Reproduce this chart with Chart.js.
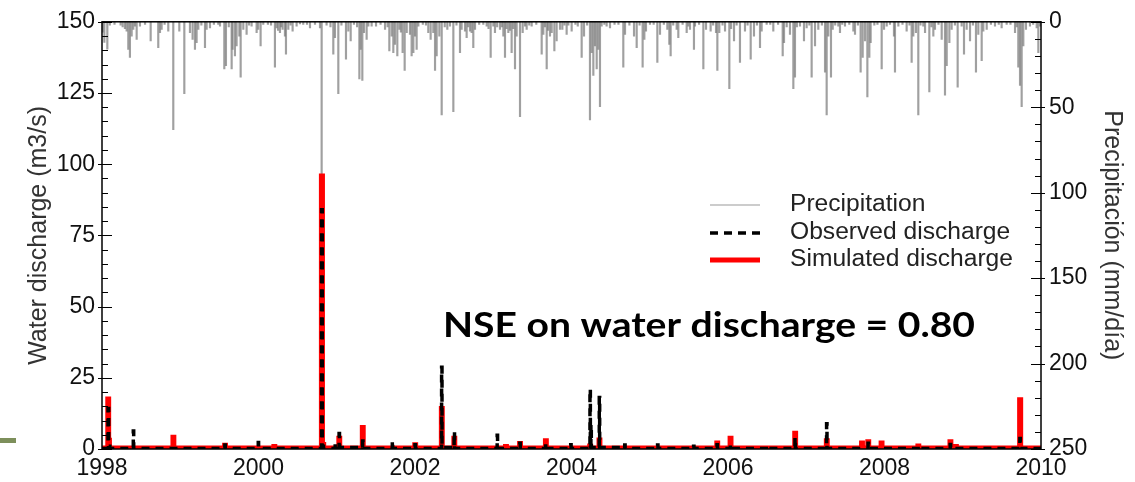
<!DOCTYPE html>
<html>
<head>
<meta charset="utf-8">
<title>Water discharge</title>
<script src="https://cdn.jsdelivr.net/npm/chart.js@4.4.1/dist/chart.umd.min.js"></script>
<style>
  body { margin: 0; background: #fff; }
  #wrap { position: relative; width: 1135px; height: 482px; }
  #mark { position: absolute; left: 0; top: 438px; width: 16px; height: 5px; background: #7d8f5b; }
</style>
</head>
<body>
<div id="wrap">
  <canvas id="dischargeChart" width="1135" height="482"></canvas>
  <div id="mark"></div>
</div>
<script>
// fechas en años decimales
var yearTicks = [1998, 2000, 2002, 2004, 2006, 2008, 2010];
var dischargeTicks = [0, 25, 50, 75, 100, 125, 150];
var precipTicks = [0, 50, 100, 150, 200, 250];

var seriesLabels = ['Precipitation', 'Observed discharge', 'Simulated discharge'];
var nseLabel = 'NSE on water discharge = 0.80';

// caudal observado [fecha, m3/s]
var observed = [
    [1998.000, 0.2], [1998.070, 0.2], [1998.077, 14.2], [1998.085, 1.0], [1998.100, 0.2],
    [1998.395, 0.2], [1998.400, 6.3], [1998.405, 0.2],
    [1999.565, 0.2], [1999.570, 1.4], [1999.575, 0.2],
    [1999.993, 0.2], [1999.997, 2.3], [2000.001, 0.2],
    [2000.800, 0.2], [2000.807, 84.0], [2000.815, 1.0], [2000.830, 0.2],
    [2000.975, 0.2], [2000.980, 1.7], [2000.985, 0.2],
    [2001.025, 0.2], [2001.030, 5.4], [2001.035, 0.5],
    [2001.325, 0.2], [2001.330, 2.8], [2001.335, 0.2],
    [2001.705, 0.2], [2001.710, 2.9], [2001.715, 0.2],
    [2001.995, 0.2], [2002.000, 1.5], [2002.005, 0.2],
    [2002.335, 0.2], [2002.340, 28.7], [2002.345, 0.5],
    [2002.495, 0.2], [2002.500, 6.0], [2002.505, 0.2],
    [2003.045, 0.2], [2003.050, 4.8], [2003.055, 0.2],
    [2003.335, 0.2], [2003.340, 2.0], [2003.345, 0.2],
    [2003.665, 0.2], [2003.670, 2.0], [2003.675, 0.2],
    [2003.985, 0.2], [2003.990, 1.5], [2003.995, 0.2],
    [2004.231, 0.2], [2004.236, 21.0], [2004.241, 1.0], [2004.248, 8.5], [2004.253, 0.5],
    [2004.350, 0.2], [2004.355, 18.1], [2004.360, 0.5],
    [2004.675, 0.2], [2004.680, 1.4], [2004.685, 0.2],
    [2005.095, 0.2], [2005.100, 1.4], [2005.105, 0.2],
    [2005.555, 0.2], [2005.560, 1.0], [2005.565, 0.2],
    [2005.855, 0.2], [2005.860, 1.5], [2005.865, 0.2],
    [2006.025, 0.2], [2006.030, 1.5], [2006.035, 0.2],
    [2006.485, 0.2], [2006.490, 1.0], [2006.495, 0.2],
    [2006.851, 0.2], [2006.856, 4.0], [2006.861, 0.2],
    [2007.255, 0.2], [2007.260, 8.9], [2007.265, 0.2],
    [2007.785, 0.2], [2007.790, 2.0], [2007.795, 0.2],
    [2008.425, 0.2], [2008.430, 1.0], [2008.435, 0.2],
    [2008.835, 0.2], [2008.840, 1.6], [2008.845, 0.2],
    [2009.725, 0.2], [2009.730, 3.7], [2009.735, 0.2],
    [2010.000, 0.2]
];

// caudal simulado [fecha, m3/s]
var simulated = [
    [1998.000, 0.3], [1998.072, 0.3], [1998.077, 17.5], [1998.082, 3.0], [1998.092, 0.3],
    [1998.905, 0.3], [1998.910, 4.0], [1998.915, 0.3],
    [1999.565, 0.3], [1999.570, 1.2], [1999.575, 0.3],
    [2000.195, 0.3], [2000.200, 0.8], [2000.205, 0.3],
    [2000.800, 0.3], [2000.807, 95.8], [2000.814, 1.5], [2000.830, 0.3],
    [2001.025, 0.3], [2001.030, 3.7], [2001.035, 0.3],
    [2001.325, 0.3], [2001.330, 7.5], [2001.335, 0.3],
    [2001.995, 0.3], [2002.000, 1.4], [2002.005, 0.3],
    [2002.335, 0.3], [2002.340, 14.1], [2002.345, 0.3],
    [2002.495, 0.3], [2002.500, 3.7], [2002.505, 0.3],
    [2003.155, 0.3], [2003.160, 0.8], [2003.165, 0.3],
    [2003.335, 0.3], [2003.340, 1.8], [2003.345, 0.3],
    [2003.665, 0.3], [2003.670, 2.8], [2003.675, 0.3],
    [2004.231, 0.3], [2004.236, 1.0], [2004.241, 0.3],
    [2004.350, 0.3], [2004.355, 3.1], [2004.360, 0.3],
    [2005.855, 0.3], [2005.860, 2.0], [2005.865, 0.3],
    [2006.025, 0.3], [2006.030, 3.7], [2006.035, 0.3],
    [2006.851, 0.3], [2006.856, 5.4], [2006.861, 0.3],
    [2007.255, 0.3], [2007.260, 2.8], [2007.265, 0.3],
    [2007.705, 0.3], [2007.710, 2.0], [2007.715, 0.3],
    [2007.785, 0.3], [2007.790, 2.5], [2007.795, 0.3],
    [2007.955, 0.3], [2007.960, 2.0], [2007.965, 0.3],
    [2008.425, 0.3], [2008.430, 1.0], [2008.435, 0.3],
    [2008.835, 0.3], [2008.840, 2.5], [2008.845, 0.3],
    [2008.905, 0.3], [2008.910, 0.8], [2008.915, 0.3],
    [2009.723, 0.3], [2009.730, 17.2], [2009.737, 0.3],
    [2010.000, 0.3]
];

// precipitación diaria [fecha, mm/día]
var precipitation = [
    [1998.010, 6], [1998.030, 12], [1998.068, 16], [1998.100, 2], [1998.160, 1.5], [1998.238, 2],
    [1998.264, 3], [1998.293, 4], [1998.315, 5.5], [1998.336, 16.1], [1998.357, 20.9], [1998.379, 8.4],
    [1998.400, 4.5], [1998.421, 2.6], [1998.443, 10.3], [1998.485, 2.6], [1998.550, 1.5], [1998.622, 11.2],
    [1998.719, 15.1], [1998.741, 6.4], [1998.762, 4.5], [1998.800, 1.5], [1998.847, 5.5], [1998.911, 63.1],
    [1998.988, 5.5], [1999.052, 42], [1999.124, 6.4], [1999.158, 10.3], [1999.188, 16.1], [1999.209, 12.2],
    [1999.231, 4.5], [1999.270, 2], [1999.316, 15.1], [1999.337, 4.5], [1999.380, 3.6], [1999.430, 1.5],
    [1999.486, 1.6], [1999.508, 2.6], [1999.563, 27.6], [1999.584, 25.7], [1999.620, 3], [1999.657, 27.6],
    [1999.669, 16.1], [1999.699, 19.9], [1999.720, 14.1], [1999.755, 8.4], [1999.772, 32.4], [1999.806, 4.5],
    [1999.848, 7.4], [1999.880, 2], [1999.912, 2.6], [1999.976, 6.4], [1999.997, 4.5], [2000.027, 14.1],
    [2000.061, 1.6], [2000.120, 1.5], [2000.160, 2], [2000.210, 26.6], [2000.232, 3.6], [2000.250, 5],
    [2000.274, 6.4], [2000.290, 3], [2000.308, 4.5], [2000.338, 8.4], [2000.351, 19], [2000.381, 4.5],
    [2000.410, 2], [2000.436, 5.5], [2000.487, 2.6], [2000.530, 1.2], [2000.572, 1.6], [2000.620, 1.5],
    [2000.658, 3.6], [2000.722, 1.6], [2000.786, 3.6], [2000.807, 96], [2000.870, 2], [2000.920, 3],
    [2000.956, 19], [2000.977, 9.3], [2001.020, 42], [2001.060, 2], [2001.118, 21.8], [2001.148, 5.5],
    [2001.178, 11.2], [2001.220, 1.5], [2001.260, 3], [2001.289, 33.4], [2001.306, 16.1], [2001.327, 34.3],
    [2001.348, 6.4], [2001.382, 10.3], [2001.404, 2.6], [2001.446, 2.6], [2001.502, 2.6], [2001.560, 1.5],
    [2001.617, 4.5], [2001.650, 3], [2001.672, 17], [2001.702, 8.4], [2001.723, 18], [2001.744, 13.2],
    [2001.774, 19.9], [2001.800, 4.5], [2001.820, 6], [2001.842, 18], [2001.868, 28.5], [2001.894, 6.4],
    [2001.936, 7.4], [2001.957, 19.9], [2001.979, 18], [2002.000, 8.4], [2002.021, 16.1], [2002.043, 2.6],
    [2002.100, 1.5], [2002.140, 2], [2002.170, 6.4], [2002.200, 10.3], [2002.234, 6.4], [2002.256, 28.5],
    [2002.277, 19.9], [2002.311, 8.4], [2002.341, 54.5], [2002.380, 3], [2002.413, 4.5], [2002.447, 2.6],
    [2002.490, 52.6], [2002.530, 2], [2002.575, 18], [2002.596, 4.5], [2002.639, 5.5], [2002.660, 9.3],
    [2002.680, 3], [2002.703, 5.5], [2002.724, 6.4], [2002.745, 15.1], [2002.767, 4.5], [2002.820, 1.5],
    [2002.873, 1.6], [2002.916, 2.6], [2002.940, 4], [2002.967, 20.9], [2003.001, 2.6], [2003.022, 6.4],
    [2003.050, 3], [2003.086, 4.5], [2003.110, 3], [2003.129, 8.4], [2003.150, 20.9], [2003.170, 4],
    [2003.193, 6.4], [2003.215, 5], [2003.235, 18], [2003.256, 4], [2003.278, 27.6], [2003.299, 8.4],
    [2003.342, 55.5], [2003.376, 6.4], [2003.406, 2.6], [2003.427, 4.5], [2003.460, 2], [2003.491, 2.6],
    [2003.550, 1.5], [2003.619, 19], [2003.640, 7.4], [2003.660, 3], [2003.683, 27.6], [2003.700, 5],
    [2003.725, 8.4], [2003.747, 6.4], [2003.781, 17], [2003.810, 11.2], [2003.853, 4.5], [2003.883, 4.5],
    [2003.910, 2], [2003.938, 7.4], [2003.960, 2], [2004.002, 5.5], [2004.050, 1.5], [2004.080, 2.5],
    [2004.130, 20.9], [2004.160, 8.4], [2004.200, 2], [2004.236, 57.4], [2004.258, 18], [2004.279, 31.4],
    [2004.300, 14.1], [2004.322, 27.6], [2004.343, 16.1], [2004.364, 49.7], [2004.385, 2.6], [2004.420, 1.5],
    [2004.449, 2.6], [2004.492, 3.6], [2004.550, 1.5], [2004.600, 1.5], [2004.662, 26.6], [2004.684, 7.4],
    [2004.740, 2], [2004.799, 8.4], [2004.833, 15.1], [2004.870, 2], [2004.909, 26.6], [2004.931, 10.3],
    [2004.952, 5.5], [2005.003, 1.6], [2005.050, 1.5], [2005.097, 23.7], [2005.131, 7.4], [2005.180, 1.5],
    [2005.225, 4.5], [2005.250, 13.2], [2005.267, 19.9], [2005.300, 2], [2005.344, 4.5], [2005.365, 9.3],
    [2005.420, 1.5], [2005.472, 6.4], [2005.493, 2.6], [2005.514, 4.5], [2005.565, 16.1], [2005.578, 2.6],
    [2005.630, 1.5], [2005.685, 27.6], [2005.719, 4.5], [2005.778, 5.5], [2005.810, 2], [2005.847, 6.4],
    [2005.864, 28.5], [2005.889, 6.4], [2005.930, 2], [2005.962, 5.5], [2006.017, 39.1], [2006.040, 4],
    [2006.077, 11.2], [2006.110, 2], [2006.153, 23.7], [2006.217, 5.5], [2006.250, 2], [2006.290, 21.8],
    [2006.332, 8.4], [2006.370, 2], [2006.409, 15.1], [2006.430, 5.5], [2006.494, 1.6], [2006.540, 1.5],
    [2006.579, 5.5], [2006.640, 1.5], [2006.699, 19.9], [2006.716, 12.2], [2006.750, 3], [2006.792, 7.4],
    [2006.835, 39.1], [2006.856, 32.4], [2006.880, 3], [2006.920, 2.6], [2006.971, 11.2], [2007.005, 3.6],
    [2007.040, 2], [2007.069, 32.4], [2007.112, 14.1], [2007.154, 4.5], [2007.200, 2], [2007.240, 29.5],
    [2007.261, 54.5], [2007.282, 8.4], [2007.316, 32.4], [2007.338, 4.5], [2007.370, 2], [2007.410, 2.6],
    [2007.431, 6.4], [2007.460, 1.5], [2007.495, 2.6], [2007.550, 1.5], [2007.602, 5.5], [2007.623, 7.4],
    [2007.660, 2], [2007.695, 29.5], [2007.721, 20.9], [2007.751, 11.2], [2007.781, 43.9], [2007.806, 20.9],
    [2007.823, 12.2], [2007.870, 2], [2007.910, 1.5], [2007.964, 27.6], [2007.994, 4.5], [2008.028, 2.6],
    [2008.070, 1.5], [2008.121, 8.4], [2008.134, 29.5], [2008.177, 2.6], [2008.230, 1.5], [2008.283, 5.5],
    [2008.320, 2], [2008.347, 23.7], [2008.368, 8.4], [2008.402, 6.4], [2008.432, 54.5], [2008.460, 2],
    [2008.496, 2.6], [2008.518, 6.4], [2008.573, 41], [2008.600, 3], [2008.624, 8.4], [2008.645, 4.5],
    [2008.690, 1.5], [2008.731, 10.3], [2008.773, 43], [2008.795, 25.7], [2008.829, 12.2], [2008.858, 4.5],
    [2008.900, 2], [2008.935, 38.2], [2008.986, 2.6], [2009.016, 19], [2009.050, 4.5], [2009.093, 11.2],
    [2009.130, 2], [2009.169, 29.5], [2009.199, 7.4], [2009.242, 22.8], [2009.263, 5.5], [2009.306, 4.5],
    [2009.360, 1.5], [2009.412, 2.6], [2009.460, 1.5], [2009.497, 3.6], [2009.561, 1.6], [2009.610, 1.5],
    [2009.668, 6.4], [2009.690, 3], [2009.710, 26.6], [2009.732, 37.2], [2009.753, 49.7], [2009.774, 14.1],
    [2009.808, 4.5], [2009.859, 2.6], [2009.900, 1.5], [2009.945, 3.6], [2009.966, 18], [2009.987, 2.6]
];

var toPoints = function (rows) {
    return rows.map(function (r) { return { x: r[0], y: r[1] }; });
};

var tickFont = { family: 'Liberation Sans, Arial, sans-serif', size: 23 };
var titleFont = { family: 'Liberation Sans, Arial, sans-serif', size: 25 };

// marco, marcas de eje, leyenda y texto NSE
var decorations = {
    id: 'decorations',
    afterDatasetsDraw: function (chart) {
        var ctx = chart.ctx, a = chart.chartArea, s = chart.scales;
        ctx.save();
        ctx.strokeStyle = '#000';
        ctx.lineWidth = 1.5;
        ctx.strokeRect(a.left, a.top, a.right - a.left, a.bottom - a.top);

        ctx.lineWidth = 1;
        for (var v = 0; v <= 150; v += 5) {
            var y = Math.round(s.y.getPixelForValue(v)) + 0.5;
            var major = v % 25 === 0;
            ctx.beginPath();
            ctx.moveTo(a.left - (major ? 4 : 0), y);
            ctx.lineTo(a.left + (major ? 10 : 6), y);
            ctx.stroke();
        }
        for (var p = 0; p <= 250; p += 10) {
            var yp = Math.round(s.yP.getPixelForValue(p)) + 0.5;
            var big = p % 50 === 0;
            ctx.beginPath();
            ctx.moveTo(a.right - (big ? 10 : 6), yp);
            ctx.lineTo(a.right + (big ? 4 : 0), yp);
            ctx.stroke();
        }
        ctx.restore();
    },
    afterDraw: function (chart) {
        var ctx = chart.ctx;
        ctx.save();

        // leyenda
        var rows = [205, 233, 260];
        ctx.lineCap = 'butt';
        ctx.strokeStyle = '#999';
        ctx.lineWidth = 1.2;
        ctx.beginPath(); ctx.moveTo(710, rows[0]); ctx.lineTo(760, rows[0]); ctx.stroke();
        ctx.strokeStyle = '#000';
        ctx.lineWidth = 3.5;
        ctx.setLineDash([8, 6]);
        ctx.beginPath(); ctx.moveTo(710, rows[1]); ctx.lineTo(760, rows[1]); ctx.stroke();
        ctx.setLineDash([]);
        ctx.strokeStyle = '#ff0000';
        ctx.lineWidth = 5;
        ctx.beginPath(); ctx.moveTo(710, rows[2]); ctx.lineTo(760, rows[2]); ctx.stroke();

        ctx.fillStyle = '#222';
        ctx.textBaseline = 'middle';
        ctx.textAlign = 'left';
        ctx.font = '23px "Liberation Sans", Arial, sans-serif';
        seriesLabels.forEach(function (label, i) {
            ctx.save();
            ctx.translate(790, rows[i]);
            ctx.scale(1.07, 1);
            ctx.fillText(label, 0, 0);
            ctx.restore();
        });

        // indicador NSE, ensanchado hasta 532 px
        ctx.fillStyle = '#000';
        ctx.font = 'bold 34px Lato, "Open Sans", sans-serif';
        ctx.textBaseline = 'alphabetic';
        var w = ctx.measureText(nseLabel).width;
        ctx.translate(443, 337);
        ctx.scale(532 / w, 1);
        ctx.fillText(nseLabel, 0, 0);
        ctx.restore();
    }
};

var lineStyle = {
    yAxisID: 'y',
    pointRadius: 0,
    tension: 0,
    stepped: true,
    clip: 0
};

var chart = new Chart(document.getElementById('dischargeChart').getContext('2d'), {
    type: 'line',
    data: {
        datasets: [{
            type: 'bar',
            label: seriesLabels[0],
            data: toPoints(precipitation),
            yAxisID: 'yP',
            backgroundColor: 'rgba(120, 120, 120, 0.7)',
            barThickness: 1.5,
            grouped: false,
            order: 3
        }, Object.assign({
            label: seriesLabels[2],
            data: toPoints(simulated),
            borderColor: '#ff0000',
            borderWidth: 5.5,
            order: 2
        }, lineStyle), Object.assign({
            label: seriesLabels[1],
            data: toPoints(observed),
            borderColor: '#000',
            borderWidth: 3.5,
            borderDash: [8, 6],
            order: 1
        }, lineStyle)]
    },
    options: {
        responsive: false,
        devicePixelRatio: 1,
        animation: false,
        layout: { padding: { top: 15, left: 0, right: 0, bottom: 0 } },
        plugins: {
            legend: { display: false },
            tooltip: { enabled: false }
        },
        scales: {
            x: {
                type: 'linear',
                min: yearTicks[0],
                max: yearTicks[yearTicks.length - 1],
                offset: false,
                afterBuildTicks: function (scale) {
                    scale.ticks = yearTicks.map(function (v) { return { value: v }; });
                },
                afterFit: function (scale) { scale.height = 33; },
                grid: { display: false, drawTicks: false },
                border: { display: false },
                ticks: {
                    font: tickFont, color: '#111', padding: 6, maxRotation: 0,
                    callback: function (v) { return String(v); }
                }
            },
            y: {
                position: 'left',
                min: 0,
                max: 150,
                afterBuildTicks: function (scale) {
                    scale.ticks = dischargeTicks.map(function (v) { return { value: v }; });
                },
                afterFit: function (scale) { scale.width = 102; },
                grid: { display: false, drawTicks: false },
                border: { display: false },
                ticks: { font: tickFont, color: '#111', padding: 7 },
                title: {
                    display: true, text: 'Water discharge (m3/s)',
                    font: titleFont, color: '#333', padding: { top: 24, bottom: 0 }
                }
            },
            yP: {
                position: 'right',
                reverse: true,
                min: 0,
                max: 250,
                afterBuildTicks: function (scale) {
                    scale.ticks = precipTicks.map(function (v) { return { value: v }; });
                },
                afterFit: function (scale) { scale.width = 94; },
                grid: { display: false, drawTicks: false },
                border: { display: false },
                ticks: { font: tickFont, color: '#111', padding: 8 },
                title: {
                    display: true, text: 'Precipitación (mm/día)',
                    font: titleFont, color: '#333', padding: { top: 8, bottom: 0 }
                }
            }
        }
    },
    plugins: [decorations]
});
</script>
</body>
</html>
